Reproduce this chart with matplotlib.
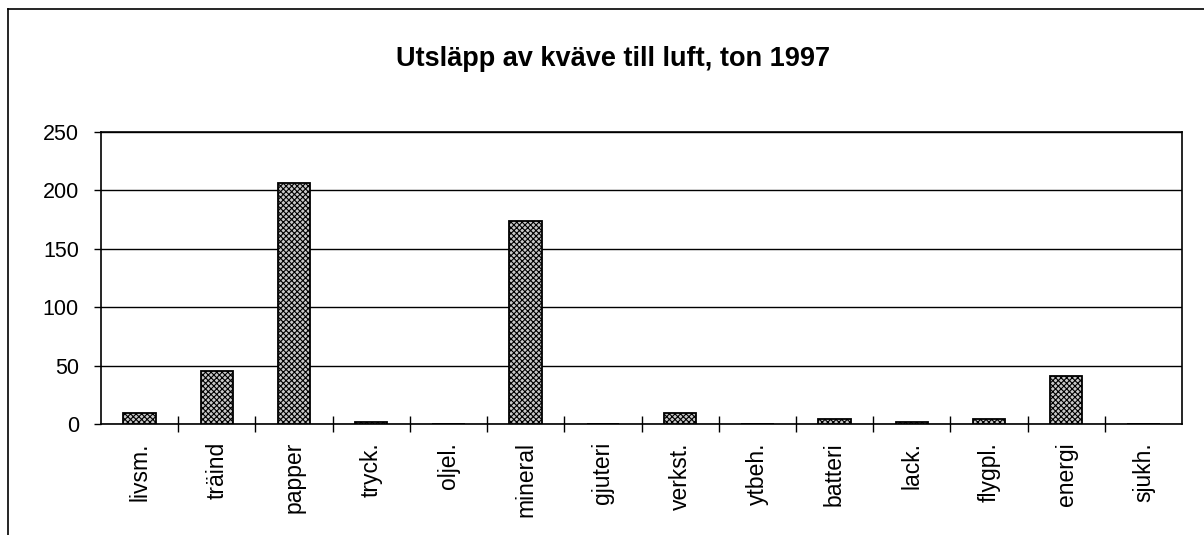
import matplotlib
matplotlib.use("Agg")
import matplotlib.pyplot as plt
import numpy as np
from matplotlib.ticker import FixedLocator, NullFormatter, FixedFormatter
from matplotlib.lines import Line2D

categories = ["livsm.", "träind", "papper", "tryck.", "oljel.", "mineral", "gjuteri",
              "verkst.", "ytbeh.", "batteri", "lack.", "flygpl.", "energi", "sjukh."]
values = [9, 45, 206, 2, 0, 174, 0, 9, 0, 4, 2, 4, 41, 0]
yticks = [0, 50, 100, 150, 200, 250]
title = "Utsläpp av kväve till luft, ton 1997"

plt.rcParams['font.family'] = ['Liberation Sans', 'DejaVu Sans']
plt.rcParams['hatch.linewidth'] = 0.8
plt.rcParams['hatch.color'] = '#222222'

fig = plt.figure(figsize=(12.04, 5.35), dpi=100)
ax = fig.add_axes([101/1204, 1 - 424/535, (1182-101)/1204, (424-132)/535])

n = len(categories)
x = np.arange(n) + 0.5
ax.bar(x, values, width=0.42, facecolor='#c8c8c8', edgecolor='black',
       linewidth=1.3, hatch='xxxxxx', zorder=3)

ax.set_xlim(0, n)
ax.set_ylim(0, 250)
ax.set_yticks(yticks)
ax.yaxis.grid(True, color='black', linewidth=1.0, zorder=0)
ax.set_axisbelow(True)

ax.xaxis.set_major_locator(FixedLocator(np.arange(1, n)))
ax.xaxis.set_major_formatter(NullFormatter())
ax.xaxis.set_minor_locator(FixedLocator(x))
ax.xaxis.set_minor_formatter(FixedFormatter(categories))
ax.tick_params(axis='x', which='major', direction='inout', length=11, width=1.0, color='black')
ax.tick_params(axis='x', which='minor', length=0, pad=13, labelsize=16.5, labelrotation=90)
ax.tick_params(axis='y', direction='out', length=5, width=1.0, pad=11, labelsize=15.5)

for s in ax.spines.values():
    s.set_color('black')
    s.set_linewidth(1.2)

fig.text(613/1204, 1 - 59/535, title, ha='center', va='center',
         fontsize=19.5, fontweight='bold')

# outer frame (top and left edges visible)
fig.add_artist(Line2D([8/1204, 1.0], [1 - 9/535, 1 - 9/535], color='black', linewidth=1.2,
                      transform=fig.transFigure))
fig.add_artist(Line2D([8/1204, 8/1204], [0, 1 - 9/535], color='black', linewidth=1.2,
                      transform=fig.transFigure))

fig.savefig("out.png", dpi=100)
